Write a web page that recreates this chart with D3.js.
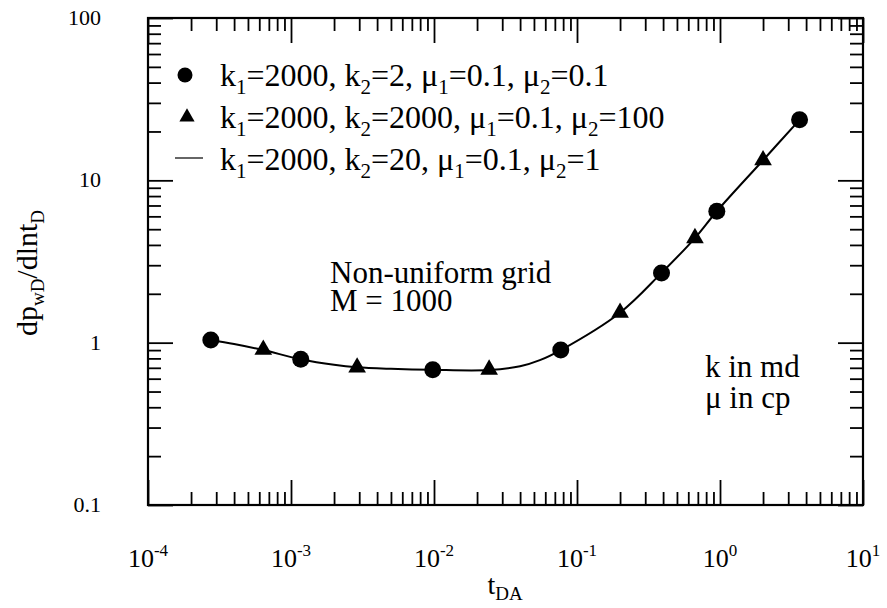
<!DOCTYPE html>
<html>
<head>
<meta charset="utf-8">
<script src="https://cdn.jsdelivr.net/npm/d3@7"></script>
<style>
body { margin: 0; background: #fff; }
text { font-family: "Liberation Serif", "Times New Roman", serif; fill: #000; }
</style>
</head>
<body>
<svg id="chart" width="887" height="608"></svg>
<script>
// data
const circleT = [2.75e-4, 1.17e-3, 0.0098, 0.077, 0.39, 0.95, 3.6];
const circleV = [1.04, 0.79, 0.68, 0.90, 2.69, 6.45, 23.6];
const triT = [6.4e-4, 2.9e-3, 0.0243, 0.2, 0.668, 2.0];
const triV = [0.906, 0.703, 0.683, 1.53, 4.41, 13.3];
const lineT = [2.75e-4, 4e-4, 6.4e-4, 1.17e-3, 2e-3, 2.9e-3, 5e-3, 0.0098, 0.0243, 0.04, 0.055, 0.077, 0.2, 0.39, 0.668, 0.95, 2.0, 3.6];
const lineV = [1.04, 0.98, 0.90, 0.79, 0.73, 0.705, 0.69, 0.68, 0.678, 0.715, 0.78, 0.90, 1.53, 2.69, 4.41, 6.45, 13.3, 23.6];

const xTicks = [1e-4, 1e-3, 1e-2, 1e-1, 1, 10];
const xExp = ["-4", "-3", "-2", "-1", "0", "1"];
const yTicks = [0.1, 1, 10, 100];
const yLabels = ["0.1", "1", "10", "100"];

const legendRows = [
  { sym: "circle", parts: [["k", 0], ["1", 1], ["=2000, k", 0], ["2", 1], ["=2, \u03bc", 0], ["1", 1], ["=0.1,  \u03bc", 0], ["2", 1], ["=0.1", 0]] },
  { sym: "triangle", parts: [["k", 0], ["1", 1], ["=2000, k", 0], ["2", 1], ["=2000, \u03bc", 0], ["1", 1], ["=0.1,  \u03bc", 0], ["2", 1], ["=100", 0]] },
  { sym: "line", parts: [["k", 0], ["1", 1], ["=2000, k", 0], ["2", 1], ["=20,  \u03bc", 0], ["1", 1], ["=0.1,  \u03bc", 0], ["2", 1], ["=1", 0]] }
];

const L = 148, R = 863, T = 18, B = 505;

const svg = d3.select("#chart");

const x = d3.scaleLog().domain([1e-4, 10]).range([L, R]);
const y = d3.scaleLog().domain([0.1, 100]).range([B, T]);

// minor tick values
let xMinor = [], yMinor = [];
for (let e = -4; e < 1; e++) for (let m = 2; m < 10; m++) xMinor.push(m * Math.pow(10, e));
for (let e = -1; e < 2; e++) for (let m = 2; m < 10; m++) yMinor.push(m * Math.pow(10, e));

function ticks(axis, vals, size, tr) {
  const g = svg.append("g")
    .attr("transform", tr)
    .call(axis.tickValues(vals).tickSize(size).tickSizeOuter(0).tickFormat(""));
  g.select(".domain").remove();
  g.selectAll("line").attr("stroke", "#000").attr("stroke-width", 1.8);
}

ticks(d3.axisBottom(x), xTicks, -25, `translate(0,${B})`);
ticks(d3.axisBottom(x), xMinor, -13, `translate(0,${B})`);
ticks(d3.axisTop(x), xTicks, -25, `translate(0,${T})`);
ticks(d3.axisTop(x), xMinor, -13, `translate(0,${T})`);
ticks(d3.axisLeft(y), yTicks, -25, `translate(${L},0)`);
ticks(d3.axisLeft(y), yMinor, -13, `translate(${L},0)`);
ticks(d3.axisRight(y), yTicks, -25, `translate(${R},0)`);
ticks(d3.axisRight(y), yMinor, -13, `translate(${R},0)`);

svg.append("rect")
  .attr("x", L).attr("y", T)
  .attr("width", R - L).attr("height", B - T)
  .attr("fill", "none").attr("stroke", "#000").attr("stroke-width", 2.2);

// tick labels
xTicks.forEach((v, i) => {
  const t = svg.append("text")
    .attr("x", x(v)).attr("y", 567)
    .attr("text-anchor", "middle")
    .style("font-size", "26px");
  t.append("tspan").text("10");
  t.append("tspan").attr("dy", -11).style("font-size", "17px").text(xExp[i]);
});

yTicks.forEach((v, i) => {
  svg.append("text")
    .attr("x", 101).attr("y", y(v) + 7)
    .attr("text-anchor", "end")
    .style("font-size", "22px")
    .text(yLabels[i]);
});

// axis titles
const xt = svg.append("text")
  .attr("x", 505).attr("y", 594)
  .attr("text-anchor", "middle")
  .style("font-size", "28px");
xt.append("tspan").text("t");
xt.append("tspan").attr("dy", 6).style("font-size", "19px").text("DA");

const yt = svg.append("text")
  .attr("transform", "translate(37,273) rotate(-90)")
  .attr("text-anchor", "middle")
  .style("font-size", "30px");
yt.append("tspan").text("dp");
yt.append("tspan").attr("dy", 7).style("font-size", "19px").text("wD");
yt.append("tspan").attr("dy", -7).text("/dlnt");
yt.append("tspan").attr("dy", 7).style("font-size", "19px").text("D");

// curve
const lineData = lineT.map((t, i) => [t, lineV[i]]);
svg.append("path")
  .datum(lineData)
  .attr("fill", "none")
  .attr("stroke", "#000")
  .attr("stroke-width", 2)
  .attr("d", d3.line().x(d => x(d[0])).y(d => y(d[1])).curve(d3.curveCatmullRom));

// markers
svg.selectAll(".dot")
  .data(circleT.map((t, i) => [t, circleV[i]]))
  .enter().append("circle")
  .attr("cx", d => x(d[0])).attr("cy", d => y(d[1]))
  .attr("r", 8.5).attr("fill", "#000");

const tri = d3.symbol().type(d3.symbolTriangle).size(135);
svg.selectAll(".tri")
  .data(triT.map((t, i) => [t, triV[i]]))
  .enter().append("path")
  .attr("d", tri)
  .attr("transform", d => `translate(${x(d[0])},${y(d[1])})`)
  .attr("fill", "#000");

// legend
const rowY = [86, 128, 170];
legendRows.forEach((row, i) => {
  const by = rowY[i];
  if (row.sym === "circle") {
    svg.append("circle").attr("cx", 185).attr("cy", by - 11).attr("r", 7.5).attr("fill", "#000");
  } else if (row.sym === "triangle") {
    svg.append("path").attr("d", d3.symbol().type(d3.symbolTriangle).size(100))
      .attr("transform", `translate(187,${by - 11})`).attr("fill", "#000");
  } else {
    svg.append("line").attr("x1", 175).attr("x2", 203)
      .attr("y1", by - 12).attr("y2", by - 12)
      .attr("stroke", "#000").attr("stroke-width", 1.2);
  }
  const t = svg.append("text").attr("x", 220).attr("y", by).style("font-size", "32px");
  let sub = false;
  row.parts.forEach(p => {
    const s = t.append("tspan").text(p[0]);
    if (p[1] && !sub) { s.attr("dy", 8).style("font-size", "21px"); sub = true; }
    else if (!p[1] && sub) { s.attr("dy", -8); sub = false; }
  });
});

// annotations
svg.append("text").attr("x", 330).attr("y", 283).style("font-size", "31px").text("Non-uniform grid");
svg.append("text").attr("x", 330).attr("y", 311).style("font-size", "31px").text("M = 1000");
svg.append("text").attr("x", 705).attr("y", 377).style("font-size", "31px").text("k in md");
svg.append("text").attr("x", 705).attr("y", 408).style("font-size", "31px").text("\u03bc in cp");
</script>
</body>
</html>
